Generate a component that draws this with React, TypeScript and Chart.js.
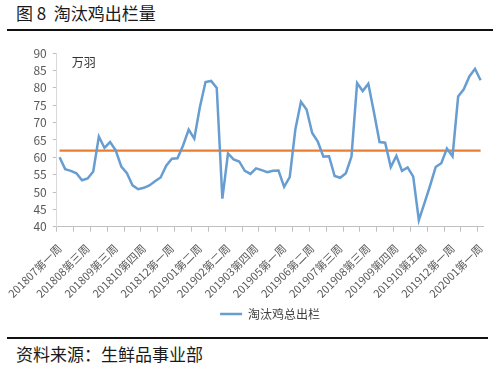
import React, { useEffect, useRef } from 'react';
import { Chart, registerables } from 'chart.js';

Chart.register(...registerables);

const FONT = '"Noto Sans CJK SC", "Noto Sans", sans-serif';

const titleText = '图 8  淘汰鸡出栏量';
const sourceText = '资料来源：生鲜品事业部';
const unitText = '万羽';
const seriesName = '淘汰鸡总出栏';

const tickLabels = [
  '201807第一周', '201808第三周', '201809第三周', '201810第四周',
  '201812第一周', '201901第二周', '201902第二周', '201903第四周',
  '201905第一周', '201906第二周', '201907第三周', '201908第三周',
  '201909第四周', '201910第五周', '201912第一周', '202001第一周',
];

const cullValues = [
  60, 56.6, 56.1, 55.4, 53.4, 53.9, 55.9, 66, 62.7, 64.4,
  62, 57.3, 55.4, 51.9, 50.8, 51.2, 51.9, 53.1, 54.2, 57.6,
  59.6, 59.7, 63.4, 68, 65.4, 74.5, 81.7, 82, 80, 48.1,
  61.1, 59.4, 58.8, 56.1, 55.2, 56.8, 56.3, 55.7, 56.1, 56.2,
  51.5, 54.3, 68, 76, 73.8, 67, 64.5, 60.2, 60.3, 54.6,
  54.1, 55.4, 60.2, 81.4, 79.1, 81.2, 73, 64.4, 64.2, 57.2,
  60.4, 56.1, 57.1, 54.4, 41.9, 46.8, 51.8, 57.2, 58.3, 62.5,
  60.3, 77.5, 79.6, 83.3, 85.5, 82.2,
];

const avgLevel = 61.9;
const labelEvery = 5;
const tickEvery = 3;

const unitPlugin = {
  id: 'unitLabel',
  afterDraw(chart: any) {
    const { ctx, chartArea } = chart;
    ctx.save();
    ctx.font = `12px ${FONT}`;
    ctx.fillStyle = '#333';
    ctx.textAlign = 'left';
    ctx.textBaseline = 'middle';
    ctx.fillText(unitText, chartArea.left + 15, chartArea.top + 9);
    ctx.restore();
  },
};

export default function App() {
  const ref = useRef<HTMLCanvasElement | null>(null);

  useEffect(() => {
    if (!ref.current) return;
    const labels = cullValues.map((_, i) =>
      i % labelEvery === 0 ? tickLabels[i / labelEvery] ?? '' : ''
    );
    const chart = new Chart(ref.current, {
      type: 'line',
      data: {
        labels,
        datasets: [
          {
            label: seriesName,
            data: cullValues,
            borderColor: '#679dd0',
            backgroundColor: '#679dd0',
            borderWidth: 2.5,
            pointRadius: 0,
            tension: 0,
          },
          {
            label: 'avg',
            data: cullValues.map(() => avgLevel),
            borderColor: '#ec7c30',
            backgroundColor: '#ec7c30',
            borderWidth: 2.2,
            pointRadius: 0,
            tension: 0,
          },
        ],
      },
      options: {
        responsive: false,
        animation: false,
        layout: { padding: { top: 13, right: 12, left: 0, bottom: 0 } },
        plugins: {
          legend: {
            position: 'bottom',
            fullSize: false,
            labels: {
              usePointStyle: true,
              pointStyle: 'line',
              pointStyleWidth: 22,
              boxHeight: 12,
              padding: 10,
              color: '#404040',
              font: { size: 12, family: FONT },
              filter: (item: any) => item.datasetIndex === 0,
            },
          },
          tooltip: { enabled: false },
        },
        scales: {
          x: {
            offset: true,
            grid: {
              offset: true,
              drawOnChartArea: false,
              drawTicks: true,
              tickLength: 5,
              tickColor: (ctx: any) =>
                ctx.index % tickEvery === 0 ? '#bfbfbf' : 'rgba(0,0,0,0)',
            },
            border: { color: '#bfbfbf' },
            ticks: {
              autoSkip: false,
              maxRotation: 45,
              minRotation: 45,
              padding: 10,
              color: '#595959',
              font: { size: 11, family: FONT },
            },
            afterFit: (s: any) => {
              s.height = 71.3;
            },
          },
          y: {
            min: 40,
            max: 90,
            ticks: {
              stepSize: 5,
              autoSkip: false,
              padding: 6,
              color: '#595959',
              font: { size: 12, family: FONT },
            },
            grid: {
              drawOnChartArea: false,
              drawTicks: true,
              tickLength: 4,
              tickColor: '#bfbfbf',
            },
            border: { color: '#d9d9d9' },
            afterFit: (s: any) => {
              s.width = 55.7;
            },
          },
        },
      },
      plugins: [unitPlugin],
    } as any);
    return () => chart.destroy();
  }, []);

  return (
    <div
      style={{
        position: 'fixed',
        left: 0,
        top: 0,
        width: 500,
        height: 370,
        background: '#fff',
        overflow: 'hidden',
        fontFamily: FONT,
      }}
    >
      <div
        style={{
          position: 'absolute',
          left: 16,
          top: 3,
          fontSize: 17,
          lineHeight: '20px',
          color: '#1a1a1a',
          whiteSpace: 'pre',
        }}
      >
        {titleText}
      </div>
      <div
        style={{
          position: 'absolute',
          left: 7,
          top: 29,
          width: 486,
          height: 2,
          background: '#111',
        }}
      />
      <canvas
        ref={ref}
        width={500}
        height={290}
        style={{ position: 'absolute', left: 0, top: 40, width: 500, height: 290 }}
      />
      <div
        style={{
          position: 'absolute',
          left: 7,
          top: 337,
          width: 481,
          height: 2,
          background: '#111',
        }}
      />
      <div
        style={{
          position: 'absolute',
          left: 16,
          top: 344,
          fontSize: 17,
          lineHeight: '20px',
          color: '#1a1a1a',
          whiteSpace: 'pre',
        }}
      >
        {sourceText}
      </div>
    </div>
  );
}
